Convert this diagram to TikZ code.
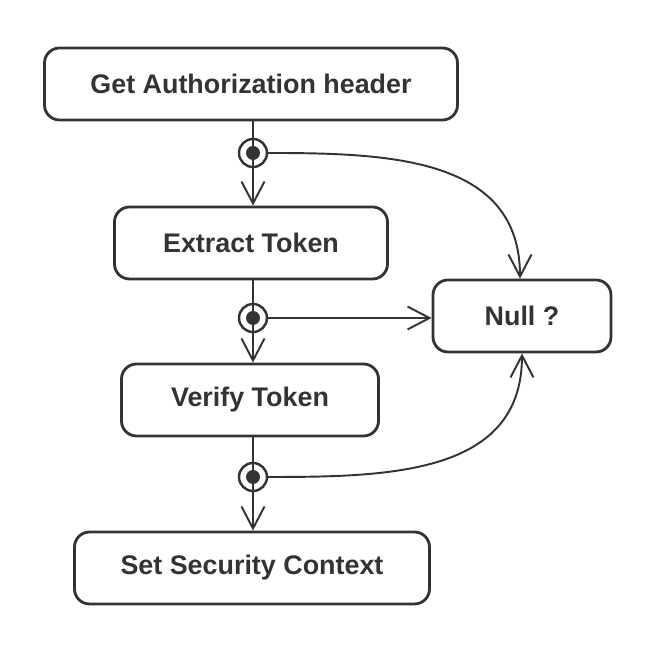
\documentclass[tikz,border=0pt]{standalone}
\usepackage{fontspec}
\setmainfont{Liberation Sans}
\usetikzlibrary{arrows.meta}
\definecolor{ink}{HTML}{333333}
\tikzset{
  step box/.style={draw=ink,line width=1.6pt,rounded corners=0.3cm,fill=white,
    font=\bfseries\fontsize{15.3}{18}\selectfont,text=ink,minimum height=1.44cm},
  fork/.style={circle,draw=ink,line width=1.4pt,minimum size=0.56cm,inner sep=0pt,
    path picture={\fill[ink] (path picture bounding box.center) circle (0.14);}},
  flow/.style={draw=ink,line width=1.1pt,-{Straight Barb[length=0.44cm,width=0.46cm,line width=1.1pt]}},
}
\begin{document}
\begin{tikzpicture}
\useasboundingbox (0,0) rectangle (13.18,13);
% \draw[help lines] (0,0) grid (13,13);
\node (get) [step box,minimum width=8.26cm] at (5.02,11.32) {Get Authorization header};
\node (extract) [step box,minimum width=5.46cm] at (5.02,8.14) {Extract Token};
\node (verify) [step box,minimum width=5.14cm] at (5.0,5.0) {Verify Token};
\node (ctx) [step box,minimum width=7.1cm] at (5.04,1.64) {Set Security Context};
\node (null) [step box,minimum width=3.56cm] at (10.44,6.68) {Null ?};
%
\node (f1) [fork] at (5.06,9.94) {};
\node (f2) [fork] at (5.06,6.64) {};
\node (f3) [fork] at (5.06,3.46) {};
%
\draw[ink,line width=1.1pt] (get.south -| f1) -- (f1.center);
\draw[ink,line width=1.1pt] (extract.south -| f2) -- (f2.center);
\draw[ink,line width=1.1pt] (verify.south -| f3) -- (f3.center);
\path[flow] (f1.center) -- (extract.north -| f1);
\path[flow] (f2.center) -- (verify.north -| f2);
\path[flow] (f3.center) -- (ctx.north -| f3);
%
\path[flow] (f1.east) to[out=0,in=90,looseness=1.1] ([xshift=-0.04cm]null.north);
\path[flow] (f2.east) -- (null.west |- f2);
\path[flow] (f3.east) to[out=0,in=-90,looseness=1.1] (null.south);
\end{tikzpicture}
\end{document}
